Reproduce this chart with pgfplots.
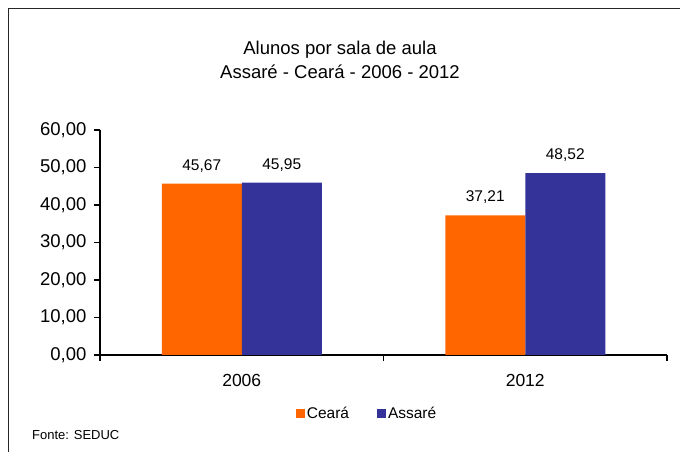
\documentclass[border=0pt]{standalone}
\usepackage{pgfplots}
\pgfplotsset{compat=1.18}
\usepackage{fontspec}
\setmainfont{Liberation Sans}
\definecolor{cearaorange}{HTML}{FF6600}
\definecolor{assareblue}{HTML}{333399}
\begin{document}
\begin{tikzpicture}[x=1pt,y=1pt]
\path[use as bounding box] (0,0) rectangle (680,452);
\draw[line width=0.9pt, black!85] (8,0) -- (8,444) -- (680,444);
\node[align=center, font=\fontsize{18.5}{24}\selectfont] at (340,392) {Alunos por sala de aula\\Assaré - Ceará - 2006 - 2012};
\node[anchor=west, font=\fontsize{13}{15}\selectfont, inner sep=0pt] at (32,17) {Fonte: SEDUC};
\begin{axis}[
  at={(100pt,97pt)}, anchor=south west,
  scale only axis, width=567pt, height=225pt,
  xmin=-0.5, xmax=1.5, ymin=0, ymax=60,
  axis lines*=left,
  axis line style={line width=1.4pt, black},
  ybar=0pt, bar width=80pt,
  xtick={-0.5,0.5,1.5}, xticklabels={},
  extra x ticks={0,1}, extra x tick labels={2006,2012},
  extra x tick style={major tick length=0pt, tick label style={yshift=-16pt}},
  ytick={0,10,20,30,40,50,60},
  tick align=outside, major tick length=6pt,
  tick style={line width=1.2pt, black},
  xticklabel style={font=\fontsize{17.5}{20}\selectfont},
  yticklabel style={font=\fontsize{18.5}{20}\selectfont, xshift=-4pt, /pgf/number format/.cd, fixed, fixed zerofill, precision=2, use comma, assume math mode=true},
  nodes near coords,
  nodes near coords style={font=\fontsize{15.5}{18}\selectfont, yshift=8pt, /pgf/number format/.cd, fixed, fixed zerofill, precision=2, use comma, assume math mode=true},
  legend columns=2,
  legend style={at={(axis description cs:0.471,-0.258)}, anchor=center, draw=none, fill=none,
    font=\fontsize{15.5}{18}\selectfont,
    /tikz/every even column/.append style={column sep=26pt},
    inner sep=0pt, cells={inner sep=1pt}},
  legend image code/.code={\path[#1, draw=none] (0pt,-4.5pt) rectangle (9pt,4.5pt);},
  clip=false,
]
\addplot[fill=cearaorange, draw=none] coordinates {(0,45.67) (1,37.21)};
\addlegendentry{Ceará}
\addplot[fill=assareblue, draw=none] coordinates {(0,45.95) (1,48.52)};
\addlegendentry{Assaré}
\end{axis}
\end{tikzpicture}
\end{document}
